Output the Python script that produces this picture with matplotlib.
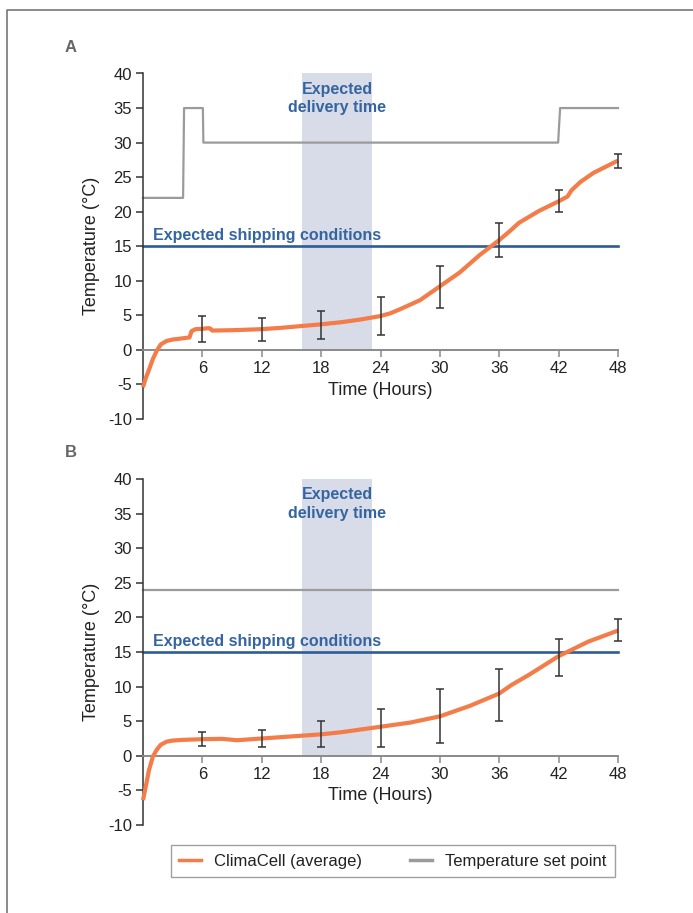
import numpy as np
import matplotlib
matplotlib.use("Agg")
import matplotlib.pyplot as plt
from matplotlib.lines import Line2D

plt.rcParams['font.family'] = ['Liberation Sans', 'DejaVu Sans']
plt.rcParams['axes.unicode_minus'] = False

# ---- data ----
# panel A
timeA = [0, 0.3, 0.6, 1.0, 1.4, 1.8, 2.4, 3.0, 3.6, 4.4, 4.7, 4.9, 5.3, 6.0, 6.6,
         6.8, 7.0, 9, 12, 14, 16, 18, 20, 21, 22, 24, 25, 26, 28, 30, 32, 34,
         35, 36, 37, 38, 40, 42, 42.9, 43.3, 44.2, 45.5, 48]
tempA = [-5.4, -4.0, -2.9, -1.3, -0.1, 0.8, 1.3, 1.5, 1.6, 1.75, 1.8, 2.7, 3.0,
         3.05, 3.15, 3.1, 2.8, 2.85, 3.0, 3.2, 3.45, 3.7, 4.0, 4.2, 4.4, 4.9,
         5.3, 5.9, 7.2, 9.2, 11.2, 13.7, 14.8, 15.9, 17.1, 18.4, 20.1, 21.5,
         22.2, 23.1, 24.3, 25.6, 27.4]
setA_time = [0, 4.05, 4.15, 6.05, 6.1, 41.95, 42.15, 48]
setA_temp = [22, 22, 35, 35, 30, 30, 35, 35]
errA_x = [6, 12, 18, 24, 30, 36, 42, 48]
errA_lo = [1.1, 1.3, 1.6, 2.2, 6.0, 13.4, 19.9, 26.3]
errA_hi = [4.9, 4.6, 5.6, 7.7, 12.2, 18.3, 23.1, 28.4]

# panel B
timeB = [0, 0.3, 0.6, 1.0, 1.4, 1.8, 2.4, 3.0, 4.0, 6, 8, 9.5, 12, 14, 16, 18,
         20, 22, 24, 27, 30, 33, 36, 37.2, 39, 42, 45, 48]
tempB = [-6.4, -4.3, -2.1, -0.1, 0.9, 1.6, 2.05, 2.2, 2.3, 2.4, 2.45, 2.25,
         2.5, 2.7, 2.9, 3.1, 3.4, 3.8, 4.2, 4.8, 5.7, 7.2, 9.0, 10.2, 11.7,
         14.4, 16.5, 18.1]
setB_time = [0, 48]
setB_temp = [24, 24]
errB_x = [6, 12, 18, 24, 30, 36, 42, 48]
errB_lo = [1.4, 1.2, 1.2, 1.2, 1.9, 5.1, 11.5, 16.6]
errB_hi = [3.4, 3.8, 5.0, 6.8, 9.6, 12.6, 16.9, 19.8]

delivery = (16.1, 23.1)
shipping_temp = 15
xticks = [6, 12, 18, 24, 30, 36, 42, 48]
yticks = [-10, -5, 0, 5, 10, 15, 20, 25, 30, 35, 40]

ORANGE = '#f47c48'
GRAY = '#9b9b9b'
BLUE = '#2d5c94'
TXTBLUE = '#3565a0'
BAND = '#d8dce8'

fig = plt.figure(figsize=(6.93, 9.13), dpi=100)

# outer frame (only top and left are visible)
fig.add_artist(Line2D([7/693, 7/693, 1.0], [0.0, 1 - 10/913, 1 - 10/913],
                      transform=fig.transFigure, color='#777777', lw=1.2))


def panel(rect, label, t, temp, st, sv, ex, elo, ehi):
    ax = fig.add_axes(rect)
    ax.set_xlim(0, 48)
    ax.set_ylim(-10, 40)

    # delivery band
    ax.fill_between(delivery, 0, 40, color=BAND, lw=0, zorder=0)
    ax.text(sum(delivery) / 2, 36.4, 'Expected\ndelivery time', ha='center',
            va='center', color=TXTBLUE, fontsize=11.5, fontweight='bold',
            linespacing=1.3)

    # shipping condition line
    ax.plot([0, 48], [shipping_temp, shipping_temp], color=BLUE, lw=1.9,
            zorder=2, clip_on=False)
    ax.text(1.0, 16.5, 'Expected shipping conditions', ha='left',
            va='center', color=TXTBLUE, fontsize=11.5, fontweight='bold')

    # set point
    ax.plot(st, sv, color=GRAY, lw=1.6, zorder=2, clip_on=False)

    # error bars
    lo = np.array(elo)
    hi = np.array(ehi)
    mid = (lo + hi) / 2
    half = (hi - lo) / 2
    ax.errorbar(ex, mid, yerr=half, fmt='none', ecolor='#333333',
                elinewidth=1.1, capsize=3, capthick=1.1, zorder=4,
                clip_on=False)

    # ClimaCell average
    ax.plot(t, temp, color=ORANGE, lw=3, zorder=3, solid_capstyle='butt',
            clip_on=False)

    # axes styling
    for s in ['top', 'right']:
        ax.spines[s].set_visible(False)
    ax.spines['bottom'].set_position(('data', 0))
    ax.spines['bottom'].set_color('#8a8a8a')
    ax.spines['bottom'].set_linewidth(1.4)
    ax.spines['left'].set_color('#333333')
    ax.spines['left'].set_linewidth(1.1)
    ax.set_xticks(xticks)
    ax.set_yticks(yticks)
    ax.tick_params(axis='x', direction='out', length=5, width=1.1,
                   color='#8a8a8a', labelsize=12, labelcolor='#222222',
                   pad=3)
    ax.tick_params(axis='y', direction='out', length=5, width=1.1,
                   color='#333333', labelsize=12, labelcolor='#222222',
                   pad=3)
    ax.set_xlabel('Time (Hours)', fontsize=13, color='#222222', labelpad=4)
    ax.set_ylabel('Temperature (\u00b0C)', fontsize=13, color='#222222',
                  labelpad=6)
    ax.set_facecolor('none')

    fig.text(71/693, rect[1] + rect[3] + 0.029, label, ha='center',
             va='center', fontsize=12, fontweight='bold', color='#666666')
    return ax


axA = panel([143/693, 1 - 419/913, 475/693, 345.5/913], 'A',
            timeA, tempA, setA_time, setA_temp, errA_x, errA_lo, errA_hi)
axB = panel([143/693, 1 - 825/913, 475/693, 346/913], 'B',
            timeB, tempB, setB_time, setB_temp, errB_x, errB_lo, errB_hi)

handles = [Line2D([], [], color=ORANGE, lw=2.5),
           Line2D([], [], color=GRAY, lw=2.5)]
leg = fig.legend(handles, ['ClimaCell (average)', 'Temperature set point'],
                 loc='lower left', ncol=2, mode='expand',
                 bbox_to_anchor=(171/693, 1 - 877/913, 444/693, 31/913),
                 fontsize=12, frameon=True, fancybox=False,
                 handlelength=1.3, handletextpad=0.8, borderaxespad=0,
                 borderpad=0.5, labelcolor='#222222')
leg.get_frame().set_edgecolor('#888888')
leg.get_frame().set_linewidth(1.0)

fig.savefig('out.png', dpi=100)
